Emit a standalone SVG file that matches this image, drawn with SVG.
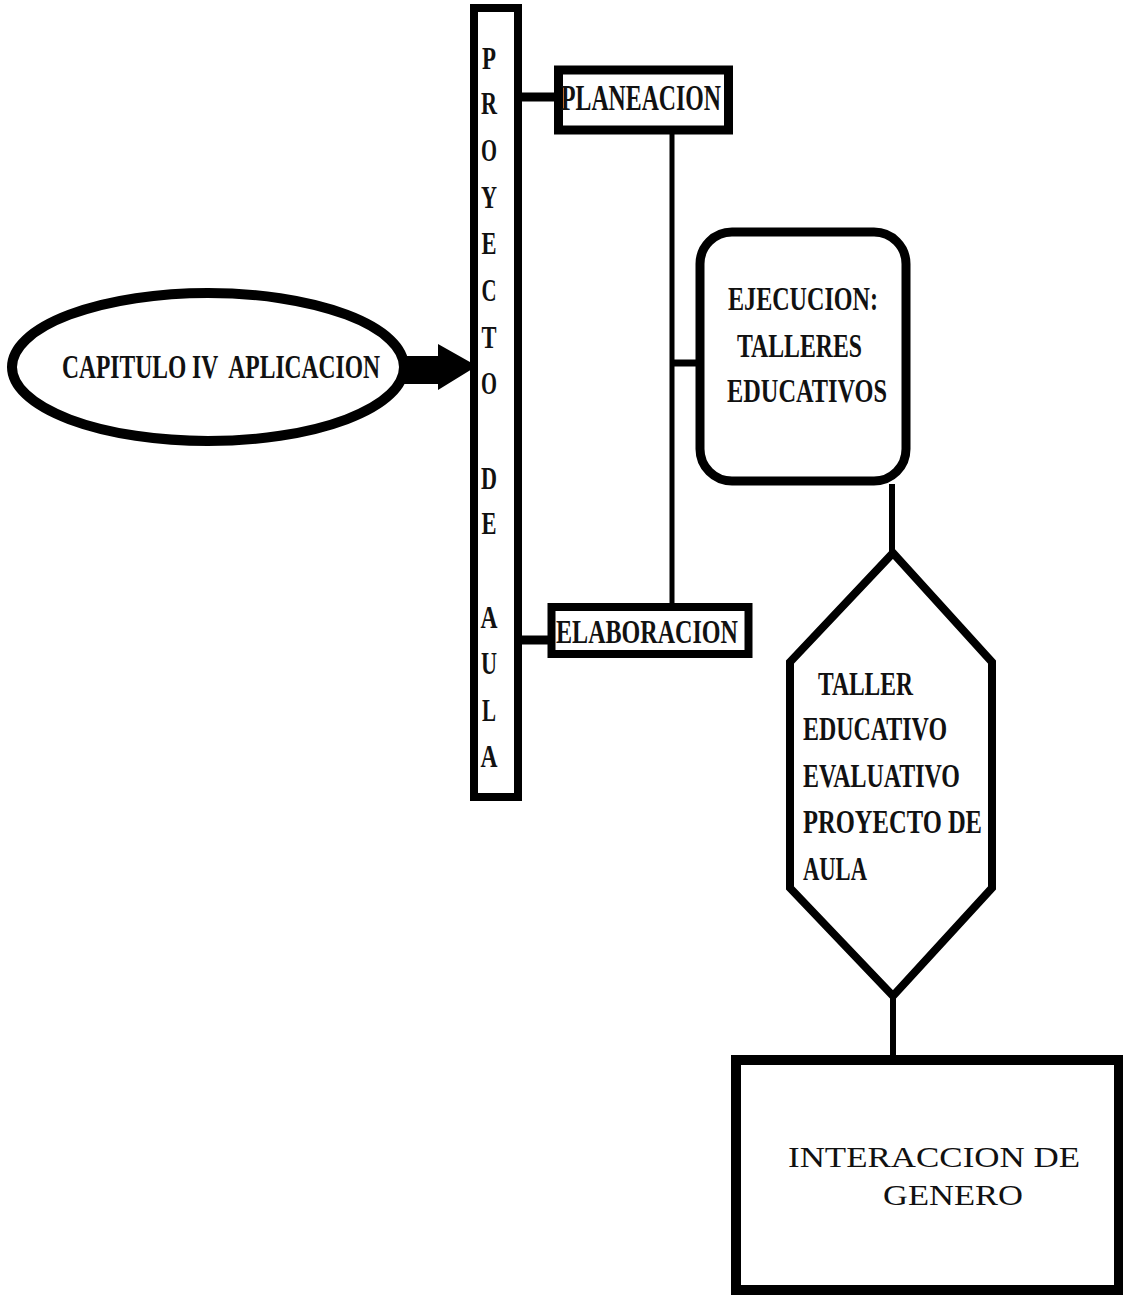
<svg xmlns="http://www.w3.org/2000/svg" width="1123" height="1295" viewBox="0 0 1123 1295">
<style>
.b{font-family:"Liberation Serif","Times New Roman",serif;font-weight:bold;fill:#111;}
.r{font-family:"Liberation Serif","Times New Roman",serif;fill:#111;}
.v{font-family:"Liberation Serif","Times New Roman",serif;font-weight:bold;fill:#111;font-size:32px;text-anchor:middle;}
.shape{fill:#fff;stroke:#000;}
.ln{stroke:#000;fill:none;}
</style>
<rect x="0" y="0" width="1123" height="1295" fill="#fff"/>
<g id="connectors">
<line class="ln" x1="521" y1="97" x2="558" y2="97" stroke-width="9"/>
<line class="ln" x1="521" y1="640" x2="550" y2="640" stroke-width="9"/>
<line class="ln" x1="672" y1="133" x2="672" y2="605" stroke-width="5"/>
<line class="ln" x1="672" y1="363" x2="698" y2="363" stroke-width="7"/>
<line class="ln" x1="892" y1="484" x2="892" y2="556" stroke-width="6"/>
<line class="ln" x1="893" y1="996" x2="893" y2="1058" stroke-width="6"/>
<polygon points="400,356 438,356 438,344 477,366 438,390 438,384 400,384" fill="#000"/>
</g>
<g id="capitulo">
<ellipse class="shape" cx="208" cy="367" rx="196" ry="74" stroke-width="10"/>
<text class="b" x="62" y="378" font-size="34" textLength="318" lengthAdjust="spacingAndGlyphs" xml:space="preserve">CAPITULO IV  APLICACION</text>
</g>
<g id="proyecto">
<rect class="shape" x="474" y="8" width="44" height="789" stroke-width="8"/>
<text class="v" x="489" y="69" textLength="14" lengthAdjust="spacingAndGlyphs">P</text>
<text class="v" x="489" y="114" textLength="16" lengthAdjust="spacingAndGlyphs">R</text>
<text class="v" x="489" y="161" textLength="16" lengthAdjust="spacingAndGlyphs">O</text>
<text class="v" x="489" y="208" textLength="16" lengthAdjust="spacingAndGlyphs">Y</text>
<text class="v" x="489" y="254" textLength="15" lengthAdjust="spacingAndGlyphs">E</text>
<text class="v" x="489" y="301" textLength="15" lengthAdjust="spacingAndGlyphs">C</text>
<text class="v" x="489" y="348" textLength="15" lengthAdjust="spacingAndGlyphs">T</text>
<text class="v" x="489" y="394" textLength="16" lengthAdjust="spacingAndGlyphs">O</text>
<text class="v" x="489" y="489" textLength="16" lengthAdjust="spacingAndGlyphs">D</text>
<text class="v" x="489" y="534" textLength="15" lengthAdjust="spacingAndGlyphs">E</text>
<text class="v" x="489" y="628" textLength="17" lengthAdjust="spacingAndGlyphs">A</text>
<text class="v" x="489" y="674" textLength="16" lengthAdjust="spacingAndGlyphs">U</text>
<text class="v" x="489" y="721" textLength="14" lengthAdjust="spacingAndGlyphs">L</text>
<text class="v" x="489" y="767" textLength="17" lengthAdjust="spacingAndGlyphs">A</text>
</g>
<g id="planeacion">
<rect class="shape" x="558.5" y="70" width="170" height="60" stroke-width="9"/>
<text class="b" x="561" y="110" font-size="36" textLength="160" lengthAdjust="spacingAndGlyphs">PLANEACION</text>
</g>
<g id="elaboracion">
<rect class="shape" x="551.5" y="607" width="197" height="47" stroke-width="8"/>
<text class="b" x="556" y="643" font-size="34" textLength="182" lengthAdjust="spacingAndGlyphs">ELABORACION</text>
</g>
<g id="ejecucion">
<rect class="shape" x="700" y="232" width="206" height="249" rx="32" ry="32" stroke-width="9"/>
<text class="b" x="728" y="310" font-size="34" textLength="150" lengthAdjust="spacingAndGlyphs">EJECUCION:</text>
<text class="b" x="737" y="357" font-size="34" textLength="125" lengthAdjust="spacingAndGlyphs">TALLERES</text>
<text class="b" x="727" y="402" font-size="34" textLength="160" lengthAdjust="spacingAndGlyphs">EDUCATIVOS</text>
</g>
<g id="taller">
<polygon class="shape" points="893,553 992,662 992,888 893,996 790,888 790,662" stroke-width="8" stroke-linejoin="miter"/>
<text class="b" x="818" y="695" font-size="33" textLength="95" lengthAdjust="spacingAndGlyphs">TALLER</text>
<text class="b" x="803" y="740" font-size="33" textLength="144" lengthAdjust="spacingAndGlyphs">EDUCATIVO</text>
<text class="b" x="803" y="787" font-size="33" textLength="157" lengthAdjust="spacingAndGlyphs">EVALUATIVO</text>
<text class="b" x="803" y="833" font-size="33" textLength="179" lengthAdjust="spacingAndGlyphs">PROYECTO DE</text>
<text class="b" x="803" y="880" font-size="33" textLength="64" lengthAdjust="spacingAndGlyphs">AULA</text>
</g>
<g id="interaccion">
<rect class="shape" x="736" y="1060" width="383" height="230" stroke-width="10"/>
<text class="r" x="788" y="1167" font-size="30" textLength="292" lengthAdjust="spacingAndGlyphs">INTERACCION DE</text>
<text class="r" x="883" y="1205" font-size="30" textLength="140" lengthAdjust="spacingAndGlyphs">GENERO</text>
</g>
</svg>
